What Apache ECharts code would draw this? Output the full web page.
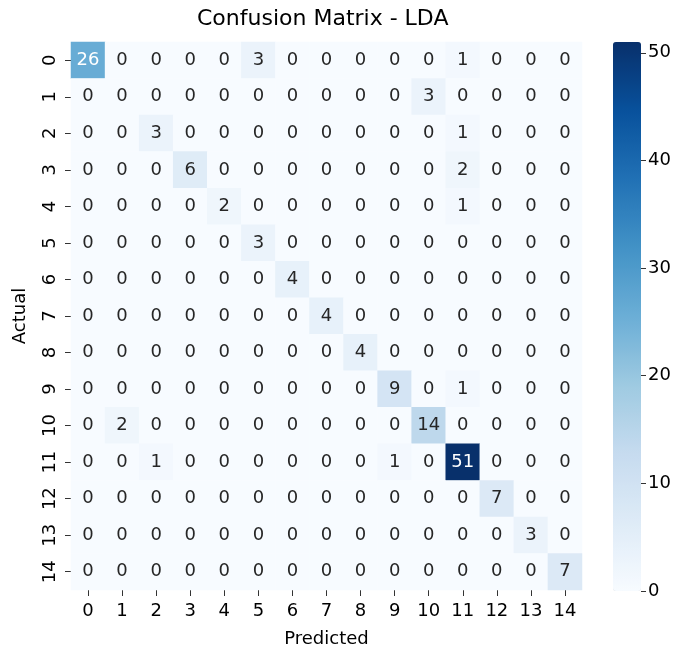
<!DOCTYPE html>
<html>
<head>
<meta charset="utf-8">
<style>
  html, body { margin: 0; padding: 0; background: #ffffff; }
  #chart { width: 676px; height: 653px; }
</style>
<script src="https://cdn.jsdelivr.net/npm/echarts@6/dist/echarts.min.js"></script>
</head>
<body>
<div id="chart"></div>
<script>
// Class labels for both axes (actual rows, predicted columns)
const classLabels = ['0','1','2','3','4','5','6','7','8','9','10','11','12','13','14'];

// Confusion matrix rows: actual class, columns: predicted class
const row0  = [26, 0, 0, 0, 0, 3, 0, 0, 0, 0, 0, 1, 0, 0, 0];
const row1  = [0, 0, 0, 0, 0, 0, 0, 0, 0, 0, 3, 0, 0, 0, 0];
const row2  = [0, 0, 3, 0, 0, 0, 0, 0, 0, 0, 0, 1, 0, 0, 0];
const row3  = [0, 0, 0, 6, 0, 0, 0, 0, 0, 0, 0, 2, 0, 0, 0];
const row4  = [0, 0, 0, 0, 2, 0, 0, 0, 0, 0, 0, 1, 0, 0, 0];
const row5  = [0, 0, 0, 0, 0, 3, 0, 0, 0, 0, 0, 0, 0, 0, 0];
const row6  = [0, 0, 0, 0, 0, 0, 4, 0, 0, 0, 0, 0, 0, 0, 0];
const row7  = [0, 0, 0, 0, 0, 0, 0, 4, 0, 0, 0, 0, 0, 0, 0];
const row8  = [0, 0, 0, 0, 0, 0, 0, 0, 4, 0, 0, 0, 0, 0, 0];
const row9  = [0, 0, 0, 0, 0, 0, 0, 0, 0, 9, 0, 1, 0, 0, 0];
const row10 = [0, 2, 0, 0, 0, 0, 0, 0, 0, 0, 14, 0, 0, 0, 0];
const row11 = [0, 0, 1, 0, 0, 0, 0, 0, 0, 1, 0, 51, 0, 0, 0];
const row12 = [0, 0, 0, 0, 0, 0, 0, 0, 0, 0, 0, 0, 7, 0, 0];
const row13 = [0, 0, 0, 0, 0, 0, 0, 0, 0, 0, 0, 0, 0, 3, 0];
const row14 = [0, 0, 0, 0, 0, 0, 0, 0, 0, 0, 0, 0, 0, 0, 7];

// Colorbar tick values
const colorbarTicks = [0, 10, 20, 30, 40, 50];

const matrix = [row0, row1, row2, row3, row4, row5, row6, row7,
                row8, row9, row10, row11, row12, row13, row14];

// Matplotlib "Blues" colormap stops
const blues = ['#f7fbff', '#deebf7', '#c6dbef', '#9ecae1', '#6baed6',
               '#4292c6', '#2171b5', '#08519c', '#08306b'];

const vmin = 0;
const vmax = Math.max(...matrix.map(r => Math.max(...r)));

const FONT = 'DejaVu Sans';
const TEXT = '#262626';

// Heatmap items: [predicted, actual, count]; annotation turns white on dark cells
const cells = [];
matrix.forEach((row, r) => {
  row.forEach((v, c) => {
    const dark = (v - vmin) / (vmax - vmin) > 0.45;
    cells.push({
      value: [c, r, v],
      label: { color: dark ? '#ffffff' : TEXT }
    });
  });
});

const chart = echarts.init(document.getElementById('chart'), null, { renderer: 'canvas' });

chart.setOption({
  backgroundColor: '#ffffff',
  animation: false,
  title: {
    text: 'Confusion Matrix - LDA',
    left: 197,
    top: 8,
    padding: 0,
    textStyle: { fontFamily: FONT, fontSize: 22, fontWeight: 'normal', color: '#000' }
  },
  grid: [
    { left: 71, top: 42, width: 511, height: 549, containLabel: false },
    { left: 613, top: 42, width: 28, height: 549, containLabel: false }
  ],
  xAxis: [
    {
      gridIndex: 0,
      type: 'category',
      data: classLabels,
      position: 'bottom',
      name: 'Predicted',
      nameLocation: 'middle',
      nameGap: 40,
      nameTextStyle: { fontFamily: FONT, fontSize: 18, color: '#000' },
      axisLine: { show: false },
      axisTick: { show: true, alignWithLabel: true, length: 6, lineStyle: { color: '#333', width: 1 } },
      axisLabel: { fontFamily: FONT, fontSize: 18, color: '#000', margin: 12, interval: 0 },
      splitLine: { show: false }
    },
    {
      gridIndex: 1,
      type: 'category',
      data: [''],
      show: false
    }
  ],
  yAxis: [
    {
      gridIndex: 0,
      type: 'category',
      data: classLabels,
      inverse: true,
      name: 'Actual',
      nameLocation: 'middle',
      nameGap: 42,
      nameRotate: 90,
      nameTextStyle: { fontFamily: FONT, fontSize: 18, color: '#000' },
      axisLine: { show: false },
      axisTick: { show: true, alignWithLabel: true, length: 6, lineStyle: { color: '#333', width: 1 } },
      axisLabel: { fontFamily: FONT, fontSize: 18, color: '#000', margin: 12, rotate: 90, interval: 0 },
      splitLine: { show: false }
    },
    {
      gridIndex: 1,
      type: 'value',
      position: 'right',
      min: vmin,
      max: vmax,
      interval: 10,
      axisLine: { show: false },
      axisTick: { show: true, length: 5, lineStyle: { color: '#333', width: 1 } },
      axisLabel: {
        fontFamily: FONT, fontSize: 18, color: '#000', margin: 7,
        showMaxLabel: false,
        formatter: v => (colorbarTicks.indexOf(v) >= 0 ? String(v) : '')
      },
      splitLine: { show: false }
    }
  ],
  visualMap: {
    type: 'continuous',
    seriesIndex: 0,
    min: vmin,
    max: vmax,
    calculable: false,
    orient: 'vertical',
    left: 613,
    top: 42,
    itemWidth: 28,
    itemHeight: 549,
    padding: 0,
    text: null,
    showLabel: false,
    inRange: { color: blues }
  },
  series: [
    {
      type: 'heatmap',
      xAxisIndex: 0,
      yAxisIndex: 0,
      data: cells,
      label: {
        show: true,
        fontFamily: FONT,
        fontSize: 18,
        formatter: p => String(p.value[2])
      },
      itemStyle: { borderWidth: 0 },
      emphasis: { disabled: true }
    },
    {
      type: 'line',
      xAxisIndex: 1,
      yAxisIndex: 1,
      data: [],
      silent: true
    }
  ]
});
</script>
</body>
</html>
